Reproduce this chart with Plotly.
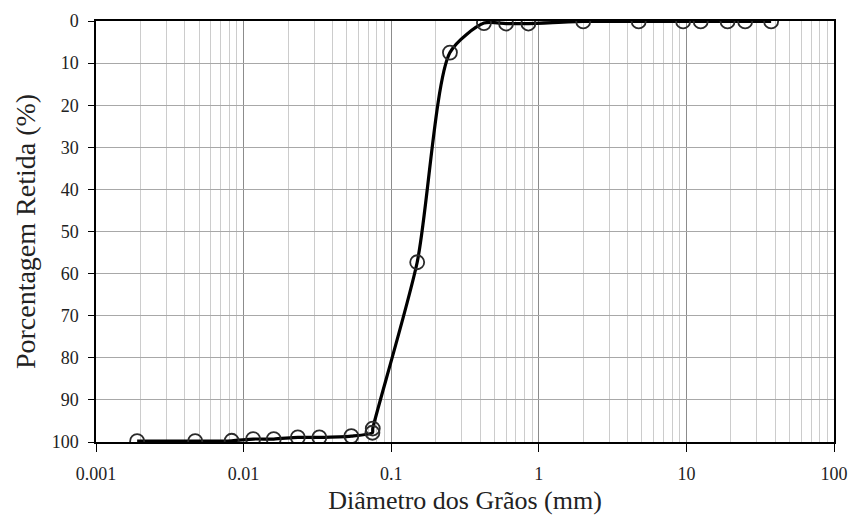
import plotly.graph_objects as go

diametro_mm = [0.0019, 0.0047, 0.0083, 0.0116, 0.016, 0.0233, 0.0326, 0.0537,
               0.0746, 0.075, 0.15, 0.25, 0.425, 0.6, 0.85, 2.0, 4.75, 9.5,
               12.5, 19.0, 25.0, 37.5]
retida_pct = [99.8, 99.8, 99.7, 99.3, 99.3, 98.9, 98.9, 98.6,
              97.8, 96.8, 57.3, 7.5, 0.5, 0.6, 0.6, 0.1, 0.1, 0.1,
              0.1, 0.1, 0.1, 0.1]

x_tickvals = [0.001, 0.01, 0.1, 1, 10, 100]
x_ticktext = ["0.001", "0.01", "0.1", "1", "10", "100"]
y_tickvals = [0, 10, 20, 30, 40, 50, 60, 70, 80, 90, 100]

font_family = "Liberation Serif"

fig = go.Figure()
fig.add_trace(go.Scatter(
    x=diametro_mm, y=retida_pct,
    mode="lines",
    line=dict(color="black", width=3.2, shape="spline", smoothing=0.7),
    showlegend=False, hoverinfo="skip",
))
fig.add_trace(go.Scatter(
    x=diametro_mm, y=retida_pct,
    mode="markers",
    marker=dict(symbol="circle-open", size=14, color="#2a2a2a",
                line=dict(width=1.8, color="#2a2a2a")),
    showlegend=False,
))

fig.update_layout(
    width=851, height=522,
    margin=dict(l=96, r=17, t=21, b=80),
    paper_bgcolor="white", plot_bgcolor="white",
    font=dict(family=font_family, color="#222"),
)
fig.update_xaxes(
    type="log", range=[-3, 2], automargin=False,
    tickvals=x_tickvals, ticktext=x_ticktext,
    ticks="outside", ticklen=8, tickcolor="black", tickwidth=1,
    ticklabelstandoff=7,
    showline=True, linecolor="black", linewidth=1.5, mirror=True,
    showgrid=True, gridcolor="#8c8c8c", gridwidth=1,
    minor=dict(dtick="D1", showgrid=True, gridcolor="#cccccc", gridwidth=1, ticks=""),
    tickfont=dict(family=font_family, size=18, color="#222"),
    title=dict(text="Diâmetro dos Grãos (mm)", font=dict(family=font_family, size=26, color="#222"), standoff=7),
    zeroline=False,
)
fig.update_yaxes(
    range=[100, 0], automargin=False,
    tickvals=y_tickvals,
    ticks="outside", ticklen=6, tickcolor="black", tickwidth=1,
    ticklabelstandoff=6,
    showline=True, linecolor="black", linewidth=1.5, mirror=True,
    showgrid=True, gridcolor="#a8a8a8", gridwidth=1,
    tickfont=dict(family=font_family, size=18, color="#222"),
    title=dict(text="Porcentagem Retida (%)", font=dict(family=font_family, size=28, color="#222"), standoff=8),
    zeroline=False,
)

fig.write_html(
    "out.html",
    config={"displayModeBar": False},
    post_script="document.body.style.margin='0';document.body.style.overflow='hidden';",
)
